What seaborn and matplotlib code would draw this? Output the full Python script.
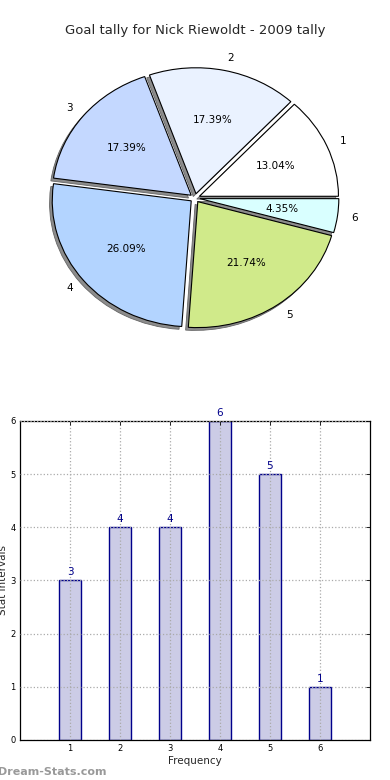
import matplotlib
matplotlib.use("Agg")
import matplotlib.pyplot as plt
import seaborn as sns
import pandas as pd

categories = [1, 2, 3, 4, 5, 6]
goals = [3, 4, 4, 6, 5, 1]
pie_labels = ["1", "2", "3", "4", "5", "6"]
pie_colors = ["#ffffff", "#eaf2ff", "#c4d8ff", "#b3d4ff", "#d0ea8a", "#d9ffff"]
title = "Goal tally for Nick Riewoldt - 2009 tally"

sns.set_theme(style="white")
plt.rcParams['font.family'] = ['DejaVu Sans']

fig = plt.figure(figsize=(3.9, 7.8), dpi=100)

# Pie (elliptical, as in the reference)
axp = fig.add_axes([0.0, 0.5436, 1.0, 0.405])
axp.pie(goals, labels=pie_labels, colors=pie_colors, explode=[0.035] * 6,
        autopct="%1.2f%%",
        shadow={"ox": -0.014, "oy": -0.016, "facecolor": "#8c8c8c",
                "edgecolor": "#666666", "alpha": 1.0, "linewidth": 0.6},
        startangle=0, counterclock=True,
        wedgeprops=dict(edgecolor="black", linewidth=0.8),
        textprops=dict(fontsize=7.5, color="black"))
axp.set_aspect("auto")
axp.set_xlim(-1.403, 1.403)
axp.set_ylim(-1.254, 1.254)
axp.axis("off")
fig.text(0.5, 0.9615, title, ha="center", va="center", fontsize=9.5)

# Bar
axb = fig.add_axes([0.0513, 0.0513, 0.897, 0.409])
df = pd.DataFrame({"x": categories, "y": goals})
sns.barplot(data=df, x="x", y="y", native_scale=True, width=0.45, ax=axb,
            color="#ccccE6", saturation=1, edgecolor="#00008b", linewidth=1.0)
axb.set_xlim(0, 7)
axb.set_ylim(0, 6)
axb.set_xticks(categories)
axb.set_yticks(range(0, 7))
axb.grid(True, linestyle=":", color="#aaaaaa", linewidth=0.9)
axb.set_axisbelow(False)
for s in axb.spines.values():
    s.set_color("black")
    s.set_linewidth(0.9)
axb.tick_params(direction="in", top=True, right=True, labelsize=6, length=3,
                pad=3, colors="black", width=0.6)
for xv, yv in zip(categories, goals):
    axb.text(xv, yv + 0.06, str(yv), ha="center", va="bottom", fontsize=7.5,
             color="#00008b")
axb.set_xlabel("Frequency", fontsize=7.5, labelpad=2)
axb.set_ylabel("Stat Intervals", fontsize=7.5, labelpad=2)

fig.text(-0.005, 0.004, "Dream-Stats.com", ha="left", va="bottom",
         fontsize=8, color="#999999", fontweight="bold")

fig.savefig("out.png", dpi=100)
